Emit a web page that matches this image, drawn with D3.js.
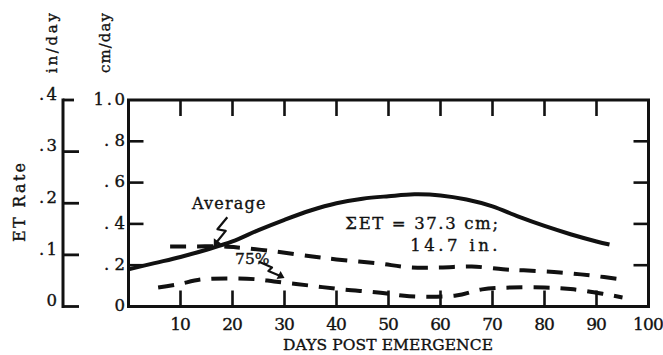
<!DOCTYPE html>
<html>
<head>
<meta charset="utf-8">
<script src="https://cdn.jsdelivr.net/npm/d3@7"></script>
<style>
  html, body { margin: 0; padding: 0; background: #fff; }
  svg { display: block; }
  text { font-family: "DejaVu Serif", "Liberation Serif", serif; fill: #111; stroke: #111; stroke-width: 0.35px; }
</style>
</head>
<body>
<svg id="chart" width="663" height="355"></svg>
<script>
// Daily evapotranspiration (cm/day) against days after emergence
const avgDays   = [0, 5, 10, 15, 20, 25, 30, 35, 40, 45, 50, 55, 60, 65, 70, 75, 80, 85, 90, 92.5];
const avgValues = [0.18, 0.21, 0.24, 0.275, 0.315, 0.37, 0.42, 0.465, 0.50, 0.522, 0.534, 0.543, 0.538, 0.518, 0.485, 0.435, 0.39, 0.35, 0.315, 0.30];

const upperDays   = [8, 13, 18, 21, 28, 35, 40, 48, 54, 60, 66, 72, 76, 83, 89, 95];
const upperValues = [0.291, 0.291, 0.291, 0.286, 0.267, 0.243, 0.228, 0.209, 0.19, 0.189, 0.194, 0.18, 0.175, 0.165, 0.15, 0.131];

const lowerDays   = [5.7, 9.5, 14, 20.5, 25, 28, 34.6, 41, 48, 54, 63, 68, 73.5, 80, 85.6, 92, 95];
const lowerValues = [0.092, 0.107, 0.131, 0.136, 0.131, 0.121, 0.102, 0.083, 0.068, 0.05, 0.053, 0.083, 0.092, 0.092, 0.083, 0.058, 0.044];

const xTicks   = [10, 20, 30, 40, 50, 60, 70, 80, 90, 100];
const cmTicks  = [0, 0.2, 0.4, 0.6, 0.8, 1.0];
const cmLabels = ["0", ".2", ".4", ".6", ".8", "1.0"];
const inTicks  = [0, 0.1, 0.2, 0.3, 0.4];
const inLabels = ["0", ".1", ".2", ".3", ".4"];

const svg = d3.select("#chart");
const ink = "#111";

const x  = d3.scaleLinear().domain([0, 100]).range([128.5, 648.5]);
const y  = d3.scaleLinear().domain([0, 1.0]).range([306.5, 100]);
const yi = d3.scaleLinear().domain([0, 0.4]).range([306.5, 100]);

// typewriter-style text: every character gets the same advance
function typed(sel, pitch) {
  sel.each(function () {
    const n = this.textContent.length;
    if (n > 1) d3.select(this).attr("textLength", n * pitch).attr("lengthAdjust", "spacing");
  });
  return sel;
}

// plot frame
svg.append("rect")
  .attr("x", x(0)).attr("y", y(1))
  .attr("width", x(100) - x(0)).attr("height", y(0) - y(1))
  .attr("fill", "none").attr("stroke", ink).attr("stroke-width", 3);

// inward ticks on all four sides
const tickLen = 15;
const inner = xTicks.filter(d => d < 100);
const g = svg.append("g").attr("stroke", ink).attr("stroke-width", 2.6);
g.selectAll(".bt").data(inner).join("line")
  .attr("x1", d => x(d)).attr("x2", d => x(d))
  .attr("y1", y(0)).attr("y2", y(0) - tickLen - 1);
g.selectAll(".tt").data(inner).join("line")
  .attr("x1", d => x(d)).attr("x2", d => x(d))
  .attr("y1", y(1)).attr("y2", y(1) + tickLen + 1);
const midCm = cmTicks.filter(d => d > 0 && d < 1);
g.selectAll(".lt").data(midCm).join("line")
  .attr("x1", x(0)).attr("x2", x(0) + tickLen)
  .attr("y1", d => y(d)).attr("y2", d => y(d));
g.selectAll(".rt").data(midCm).join("line")
  .attr("x1", x(100)).attr("x2", x(100) - tickLen)
  .attr("y1", d => y(d)).attr("y2", d => y(d));

// x tick labels
svg.append("g").selectAll("text").data(xTicks).join("text")
  .attr("x", d => x(d)).attr("y", 330)
  .attr("text-anchor", "middle").attr("font-size", 17)
  .text(d => d)
  .call(typed, 10.3);

// cm/day labels
svg.append("g").selectAll("text").data(cmTicks).join("text")
  .attr("x", 125).attr("y", d => y(d) - 1)
  .attr("dy", "0.35em")
  .attr("text-anchor", "end").attr("font-size", 16.5)
  .text((d, i) => cmLabels[i])
  .call(typed, 10.5);

// separate in/day axis
const ax = 63;
svg.append("line").attr("x1", ax).attr("x2", ax)
  .attr("y1", yi(0) + 1.5).attr("y2", yi(0.4) - 1.5)
  .attr("stroke", ink).attr("stroke-width", 3);
svg.append("g").selectAll("line").data(inTicks).join("line")
  .attr("x1", ax).attr("x2", d => d === 0.4 ? ax + 11 : ax + 16)
  .attr("y1", d => yi(d)).attr("y2", d => yi(d))
  .attr("stroke", ink).attr("stroke-width", 2.8);
svg.append("g").selectAll("text").data(inTicks).join("text")
  .attr("x", 57).attr("y", d => yi(d) - 6)
  .attr("dy", "0.35em")
  .attr("text-anchor", "end").attr("font-size", 16.5)
  .text((d, i) => inLabels[i])
  .call(typed, 9);

// unit captions and axis titles
svg.append("text").attr("transform", "translate(57,43) rotate(-90)")
  .attr("text-anchor", "middle").attr("font-size", 15).text("in/day").call(typed, 10);
svg.append("text").attr("transform", "translate(110,43) rotate(-90)")
  .attr("text-anchor", "middle").attr("font-size", 15).text("cm/day").call(typed, 10);
svg.append("text").attr("transform", "translate(25,242) rotate(-90)")
  .attr("text-anchor", "start").attr("font-size", 16).text("ET Rate").call(typed, 11.3);
svg.append("text").attr("x", 388).attr("y", 350)
  .attr("text-anchor", "middle").attr("font-size", 15.5).text("DAYS POST EMERGENCE").call(typed, 11.05);

// curves
const line = d3.line().x(d => x(d[0])).y(d => y(d[1])).curve(d3.curveCatmullRom);
const zip = (a, b) => a.map((d, i) => [d, b[i]]);

svg.append("path").datum(zip(avgDays, avgValues))
  .attr("d", line).attr("fill", "none").attr("stroke", ink).attr("stroke-width", 4);
svg.append("path").datum(zip(upperDays, upperValues))
  .attr("d", line).attr("fill", "none").attr("stroke", ink).attr("stroke-width", 4)
  .attr("stroke-dasharray", "16,11");
svg.append("path").datum(zip(lowerDays, lowerValues))
  .attr("d", line).attr("fill", "none").attr("stroke", ink).attr("stroke-width", 4)
  .attr("stroke-dasharray", "16,11");

// annotations
svg.append("text").attr("x", x(12.2)).attr("y", y(0.471)).attr("font-size", 16).text("Average").call(typed, 10.5);
svg.append("text").attr("x", x(20.5)).attr("y", y(0.204)).attr("font-size", 15.5).text("75%");
svg.append("text").attr("x", x(41.7)).attr("y", y(0.374)).attr("font-size", 16.5).text("\u03A3ET = 37.3 cm;").call(typed, 10.9);
svg.append("text").attr("x", x(54.2)).attr("y", y(0.267)).attr("font-size", 16.5).text("14.7 in.").call(typed, 10.9);

// squiggly pointer arrows
const avgArrow = [[19.0, 0.432], [17.1, 0.374], [18.7, 0.366], [16.9, 0.31]];
const pctArrow = [[25.0, 0.218], [27.6, 0.189], [26.9, 0.172], [29.2, 0.148]];
const straight = d3.line().x(d => x(d[0])).y(d => y(d[1]));
[[avgArrow, [16.4, 0.292]], [pctArrow, [30.0, 0.138]]].forEach(([pts, tip]) => {
  svg.append("path").datum(pts).attr("d", straight)
    .attr("fill", "none").attr("stroke", ink).attr("stroke-width", 2.2)
    .attr("stroke-linejoin", "round");
  const a = pts[pts.length - 1];
  const px = x(a[0]), py = y(a[1]), tx = x(tip[0]), ty = y(tip[1]);
  const ang = Math.atan2(ty - py, tx - px);
  const w = 4.5;
  const bx = px - Math.cos(ang) * 2, by = py - Math.sin(ang) * 2;
  svg.append("path")
    .attr("d", `M${tx},${ty}L${bx + Math.sin(ang) * w},${by - Math.cos(ang) * w}L${bx - Math.sin(ang) * w},${by + Math.cos(ang) * w}Z`)
    .attr("fill", ink);
});
</script>
</body>
</html>
